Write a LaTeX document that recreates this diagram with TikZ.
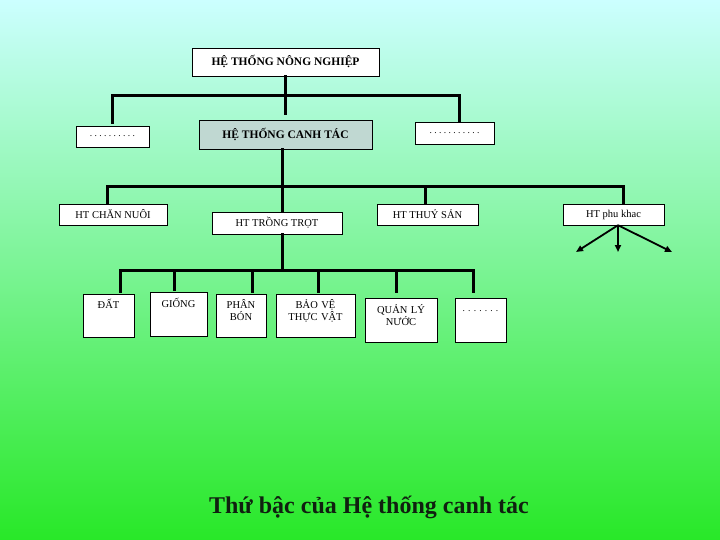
\documentclass[tikz,border=0pt]{standalone}
\usepackage{fontspec}
\setmainfont{Liberation Serif}
\usetikzlibrary{arrows.meta}
\definecolor{skytop}{RGB}{204,255,255}
\definecolor{grassmid}{RGB}{150,250,178}
\definecolor{grassbottom}{RGB}{40,232,40}
\definecolor{canhtacfill}{RGB}{192,216,210}
\definecolor{captionink}{RGB}{16,32,16}
\tikzset{
    sysbox/.style={draw, fill=white, inner sep=0pt, align=center,
        font=\fontsize{10.5}{12.5}\selectfont},
    headbox/.style={sysbox, font=\bfseries\fontsize{11.5}{13}\selectfont},
    cellbox/.style={sysbox, anchor=north, text height=14pt, text depth=29pt},
    dotfont/.style={font=\fontsize{9.5}{11}\selectfont},
    bar/.style={line width=3pt, line cap=rect},
    fanarrow/.style={-{Triangle[length=7pt,width=6pt]}, line width=1.8pt}
}

\begin{document}
\frenchspacing
\begin{tikzpicture}[x=1pt, y=-1pt]
        % background
        \shade[top color=skytop, middle color=grassmid, bottom color=grassbottom]
            (0,0) rectangle (720,540);
        \useasboundingbox (0,0) rectangle (720,540);

        % level 1
        \node[headbox, minimum width=187pt, minimum height=28pt] (nongnghiep)
            at (285.5,62) {HỆ THỐNG NÔNG NGHIỆP};
        \node[headbox, fill=canhtacfill, minimum width=173pt, minimum height=29pt]
            (canhtac) at (285.5,134.5) {HỆ THỐNG CANH TÁC};
        \node[sysbox, dotfont, minimum width=73pt, minimum height=21pt] (khacl)
            at (112.5,136.5) {. . . . . . . . . .};
        \node[sysbox, dotfont, minimum width=79pt, minimum height=22pt] (khacr)
            at (454.5,133) {. . . . . . . . . . .};

        % level 2
        \node[sysbox, minimum width=108pt, minimum height=21pt] (channuoi)
            at (113,214.5) {HT CHĂN NUÔI};
        \node[sysbox, minimum width=130pt, minimum height=22pt] (trongtrot)
            at (277,223) {HT TRỒNG TRỌT};
        \node[sysbox, minimum width=101pt, minimum height=21pt] (thuysan)
            at (427.5,214.5) {HT THUỶ SẢN};
        \node[sysbox, minimum width=101pt, minimum height=21pt] (phukhac)
            at (613.5,214.5) {HT phu khac};

        % level 3
        \node[cellbox, text width=51pt] (dat) at (108.5,294) {ĐẤT};
        \node[cellbox, text width=57pt, text height=15pt] (giong) at (178.5,292) {GIỐNG};
        \node[cellbox, text width=50pt] (phanbon) at (241,294) {PHÂN\\BÓN};
        \node[cellbox, text width=79pt] (baove) at (315.5,294) {BẢO VỆ\\THỰC VẬT};
        \node[cellbox, text width=72pt, text height=15pt] (quanly) at (401,298)
            {QUẢN LÝ\\NƯỚC};
        \node[cellbox, dotfont, text width=51pt, text height=13pt, text depth=31pt]
            (khac3) at (480.5,298) {. . . . . . .};

        \node[font=\bfseries\fontsize{24}{28}\selectfont, text=captionink] (caption)
            at (369,507) {Thứ bậc của Hệ thống canh tác};

        % bus lines
        \coordinate (bus1l) at (112,96);
        \coordinate (bus1r) at (459,96);
        \coordinate (bus2l) at (107,187);
        \coordinate (bus2r) at (623,187);
        \coordinate (bus3l) at (120,270);
        \coordinate (bus3r) at (473,270);
        \draw[bar] (bus1l) -- (bus1r);
        \draw[bar] (bus2l) -- (bus2r);
        \draw[bar] (bus3l) -- (bus3r);

        \draw[bar, shorten >=6pt] (nongnghiep.south) -- (canhtac.north);
        \draw[bar, shorten >=3pt] (khacl.north |- bus1l) -- (khacl.north);
        \draw[bar] (bus1r) -- (bus1r |- khacr.north);

        \draw[bar] ([xshift=-3.5pt]canhtac.south) -- ([xshift=-3.5pt]canhtac.south |- trongtrot.north);
        \draw[bar] (bus2l) -- (bus2l |- channuoi.north);
        \draw[bar] ([xshift=-2.5pt]thuysan.north |- bus2l) -- ([xshift=-2.5pt]thuysan.north);
        \draw[bar] (bus2r) -- (bus2r |- phukhac.north);

        \draw[bar] ([xshift=5pt]trongtrot.south) -- ([xshift=5pt]trongtrot.south |- bus3l);
        \draw[bar, shorten >=3pt] (bus3l) -- (bus3l |- dat.north);
        \draw[bar, shorten >=3pt] ([xshift=-4.5pt]giong.north |- bus3l) -- ([xshift=-4.5pt]giong.north);
        \draw[bar, shorten >=3pt] ([xshift=11pt]phanbon.north |- bus3l) -- ([xshift=11pt]phanbon.north);
        \draw[bar, shorten >=3pt] ([xshift=2.5pt]baove.north |- bus3l) -- ([xshift=2.5pt]baove.north);
        \draw[bar, shorten >=7pt] ([xshift=-5pt]quanly.north |- bus3l) -- ([xshift=-5pt]quanly.north);
        \draw[bar, shorten >=7pt] (bus3r) -- (bus3r |- khac3.north);

        % fan below HT phu khac
        \coordinate (fanl) at (576,252);
        \coordinate (fanm) at (618,252);
        \coordinate (fanr) at (672,252);
        \draw[fanarrow] ([xshift=4.5pt]phukhac.south) -- (fanl);
        \draw[fanarrow] ([xshift=4.5pt]phukhac.south) -- (fanm);
        \draw[fanarrow] ([xshift=4.5pt]phukhac.south) -- (fanr);
\end{tikzpicture}
\end{document}
